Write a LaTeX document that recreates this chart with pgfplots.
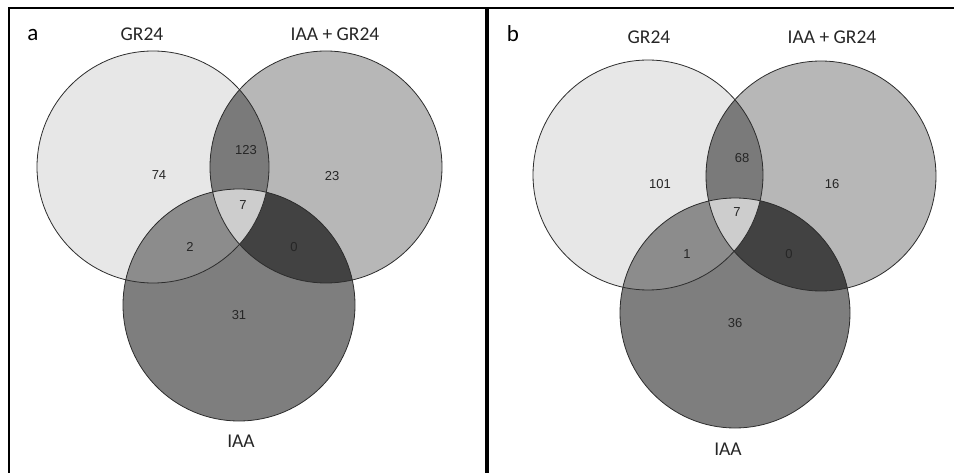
\documentclass[border=0pt]{standalone}
\usepackage{fontspec}
\setmainfont{Carlito}
\newfontfamily\numfont{Liberation Sans}
\usepackage{pgfplots}
\pgfplotsset{compat=1.18}
\usepackage{pgfplotstable}
\definecolor{cA}{RGB}{231,231,231}
\definecolor{cB}{RGB}{183,183,183}
\definecolor{cC}{RGB}{126,126,126}
\definecolor{cAB}{RGB}{122,122,122}
\definecolor{cAC}{RGB}{140,140,140}
\definecolor{cBC}{RGB}{66,66,66}
\definecolor{cABC}{RGB}{205,205,205}
\definecolor{edge}{RGB}{45,45,45}

\pgfplotstableread{
x y label
159 175 74
246 150 123
332 176 23
243 205 7
190 247 2
294 247 0
239 315 31
}\countsA
\pgfplotstableread{
x y label
660 184 101
742 158 68
832 184 16
737 212 7
687 254 1
789 254 0
735 323 36
}\countsB

% #1,#2 centre A; #3,#4 centre B; #5,#6 centre C; #7 radius
\newcommand\venn[7]{%
  \fill[cA] (axis cs:#1,#2) circle[radius=#7];
  \fill[cB] (axis cs:#3,#4) circle[radius=#7];
  \fill[cC] (axis cs:#5,#6) circle[radius=#7];
  \begin{scope}
    \clip (axis cs:#1,#2) circle[radius=#7];
    \fill[cAB] (axis cs:#3,#4) circle[radius=#7];
    \fill[cAC] (axis cs:#5,#6) circle[radius=#7];
  \end{scope}
  \begin{scope}
    \clip (axis cs:#3,#4) circle[radius=#7];
    \fill[cBC] (axis cs:#5,#6) circle[radius=#7];
  \end{scope}
  \begin{scope}
    \clip (axis cs:#1,#2) circle[radius=#7];
    \clip (axis cs:#3,#4) circle[radius=#7];
    \fill[cABC] (axis cs:#5,#6) circle[radius=#7];
  \end{scope}
  \draw[edge,line width=0.8pt] (axis cs:#1,#2) circle[radius=#7];
  \draw[edge,line width=0.8pt] (axis cs:#3,#4) circle[radius=#7];
  \draw[edge,line width=0.8pt] (axis cs:#5,#6) circle[radius=#7];
}

\begin{document}
\begin{tikzpicture}
\begin{axis}[
  x=1pt, y=1pt,
  xmin=0, xmax=954, ymin=0, ymax=473,
  y dir=reverse,
  hide axis,
  clip=true,
]
\path (axis cs:0,0) rectangle (axis cs:954,473);

\venn{153}{167}{326}{167}{239}{305}{116}
\venn{648}{175}{821}{176}{735}{313}{115}

\addplot[draw=none, nodes near coords, point meta=explicit symbolic,
  nodes near coords style={anchor=center, font=\numfont\fontsize{13}{13}\selectfont, text=black!85}]
  table[x=x, y=y, meta=label] {\countsA};
\addplot[draw=none, nodes near coords, point meta=explicit symbolic,
  nodes near coords style={anchor=center, font=\numfont\fontsize{13}{13}\selectfont, text=black!85}]
  table[x=x, y=y, meta=label] {\countsB};

% frame
\draw[black, line width=2.5pt] (axis cs:9,473) -- (axis cs:9,8) -- (axis cs:954,8);
\draw[black, line width=3.5pt] (axis cs:487,8) -- (axis cs:487,473);

% titles
\tikzset{lab/.style={font=\fontsize{19.5}{20}\selectfont, text=black!85, anchor=center}}
\node[font=\fontsize{23}{24}\selectfont, anchor=center] at (axis cs:33,35) {a};
\node[lab] at (axis cs:142,34) {GR24};
\node[lab] at (axis cs:335,34) {IAA + GR24};
\node[lab] at (axis cs:241,441) {IAA};

\node[font=\fontsize{23}{24}\selectfont, anchor=center] at (axis cs:513,34) {b};
\node[lab] at (axis cs:649,37) {GR24};
\node[lab] at (axis cs:832,37) {IAA + GR24};
\node[lab] at (axis cs:728,449) {IAA};
\end{axis}
\end{tikzpicture}
\end{document}
